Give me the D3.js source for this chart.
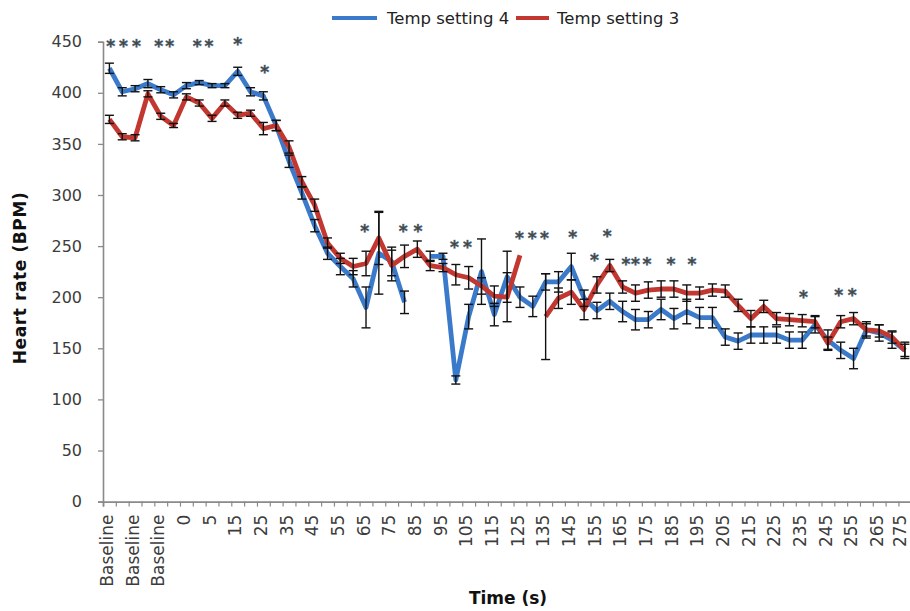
<!DOCTYPE html>
<html>
<head>
<meta charset="utf-8">
<script src="https://cdn.jsdelivr.net/npm/d3@7"></script>
<style>
  html, body { margin: 0; padding: 0; background: #fff; }
  svg { display: block; }
</style>
</head>
<body>
<svg id="chart" width="910" height="611"></svg>
<script>
// Time points (every second label is shown on the axis; index 7 carries no label)
const categories = [
  "Baseline", "Baseline", "Baseline", "Baseline", "Baseline", "Baseline",
  "0", "", "5", "10", "15", "20", "25", "30", "35", "40", "45", "50", "55", "60",
  "65", "70", "75", "80", "85", "90", "95", "100", "105", "110", "115", "120",
  "125", "130", "135", "140", "145", "150", "155", "160", "165", "170", "175",
  "180", "185", "190", "195", "200", "205", "210", "215", "220", "225", "230",
  "235", "240", "245", "250", "255", "260", "265", "270", "275"
];

// Mean heart rate (BPM); null = no reading at that time point
const tempSetting4 = [
  424, 401, 404, 409, 403, 398, 407, 410, 407, 407,
  421, 401, 397, 368, 333, 302, 270, 243, 230, 218,
  190, 243, 235, 195, null, 240, 240, 119, 181, 225,
  183, 220, 200, 191, 215, 215, 230, 199, 187, 196,
  186, 178, 178, 188, 179, 186, 180, 180, 161, 157,
  163, 163, 163, 158, 158, 173, 158, 148, 140, 168,
  165, 158, 148
];
const tempSetting4Err = [
  5, 4, 3, 4, 3, 3, 3, 2, 2, 2,
  4, 4, 4, 5, 6, 6, 6, 6, 8, 8,
  20, 40, 14, 11, null, 5, 3, 4, 12, 32,
  11, 25, 10, 10, 8, 10, 13, 8, 8, 8,
  10, 10, 8, 10, 10, 12, 10, 10, 8, 8,
  8, 8, 8, 8, 8, 8, 10, 8, 10, 8,
  8, 8, 8
];
const tempSetting3 = [
  374, 357, 356, 399, 377, 368, 396, 390, 375, 390,
  378, 380, 365, 368, 347, 313, 290, 253, 238, 230,
  233, 258, 231, 240, 247, 231, 229, 222, 219, 211,
  201, 200, 241, null, 181, 199, 205, 188, 212, 231,
  210, 204, 207, 208, 208, 204, 204, 207, 206, 192,
  179, 191, 179, 178, 177, 176, 155, 176, 179, 168,
  167, 161, 148
];
const tempSetting3Err = [
  4, 3, 3, 3, 3, 2, 3, 3, 3, 3,
  3, 3, 6, 5, 6, 5, 6, 5, 5, 8,
  12, 26, 15, 11, 8, 5, 4, 10, 11, 8,
  10, 24, 0, null, 42, 10, 12, 10, 8, 6,
  6, 8, 8, 8, 8, 8, 6, 6, 6, 6,
  8, 6, 6, 6, 6, 6, 6, 6, 6, 6,
  6, 6, 6
];

// Significance markers: position along the time axis (index units) and height (BPM)
const sigPos = [0.1, 1.1, 2.1, 3.85, 4.7, 6.85, 7.75, 10, 12.1,
                19.9, 22.9, 24.05, 26.9, 27.9, 31.95, 32.96, 33.9,
                36.1, 37.8, 38.8, 40.25, 41.0, 41.9, 43.76, 45.4,
                54.1, 56.85, 57.9];
const sigVal = [450, 450, 450, 450, 450, 450, 450, 452, 425,
                269, 269, 269, 254, 254, 262, 262, 262,
                263, 241, 264, 237, 237, 237, 237, 237,
                205, 207, 207];

const yTicks = [0, 50, 100, 150, 200, 250, 300, 350, 400, 450];

const series = [
  { name: "Temp setting 4", values: tempSetting4, err: tempSetting4Err, color: "#3b7acb" },
  { name: "Temp setting 3", values: tempSetting3, err: tempSetting3Err, color: "#c2372f" }
];

const width = 910;
const svg = d3.select("#chart");
const plotLeft = 103, step = 12.83, plotTop = 41.7, plotBottom = 501.6;
const n = categories.length;

const x = d3.scaleBand().domain(d3.range(n)).range([plotLeft, plotLeft + n * step]).padding(0);
const xEdge = d3.scaleLinear().domain([0, n]).range([plotLeft, plotLeft + n * step]);
const y = d3.scaleLinear().domain([0, 450]).range([plotBottom, plotTop]);
const xc = i => x(i) + x.bandwidth() / 2;

// Y axis
const yAxis = svg.append("g")
  .attr("transform", `translate(${plotLeft},0)`)
  .call(d3.axisLeft(y).tickValues(yTicks).tickSize(5).tickPadding(16));
yAxis.select(".domain").attr("stroke", "#8a8a8a").attr("stroke-width", 1.6);
yAxis.selectAll(".tick line").attr("stroke", "#8a8a8a").attr("stroke-width", 1.3);
yAxis.selectAll(".tick text")
  .attr("font-family", "DejaVu Sans, sans-serif")
  .attr("font-size", 16)
  .attr("fill", "#3c3c3c");

// X axis: boundary ticks between time points
const xAxis = svg.append("g")
  .attr("transform", `translate(0,${plotBottom})`)
  .call(d3.axisBottom(xEdge).tickValues(d3.range(n + 1)).tickSize(5).tickFormat(""));
xAxis.select(".domain").attr("stroke", "#8a8a8a").attr("stroke-width", 1.8);
xAxis.selectAll(".tick line").attr("stroke", "#8a8a8a").attr("stroke-width", 1.2);

// Rotated time labels, every second point (kept inside the right edge)
const labelX = i => Math.min(xc(i), width - 8);
svg.append("g").selectAll("text")
  .data(d3.range(0, n, 2))
  .join("text")
  .attr("transform", i => `translate(${labelX(i)},${plotBottom + 13}) rotate(-90)`)
  .attr("dy", "0.22em")
  .attr("text-anchor", "end")
  .attr("font-family", "DejaVu Sans, sans-serif")
  .attr("font-size", 17)
  .attr("fill", "#3c3c3c")
  .text(i => categories[i]);

// Axis titles
svg.append("text")
  .attr("transform", `translate(20,278) rotate(-90)`)
  .attr("dy", "0.35em")
  .attr("text-anchor", "middle")
  .attr("font-family", "DejaVu Sans, sans-serif")
  .attr("font-weight", "bold")
  .attr("font-size", 17)
  .attr("letter-spacing", 0.6)
  .attr("fill", "#111")
  .text("Heart rate (BPM)");

svg.append("text")
  .attr("x", 508)
  .attr("y", 598)
  .attr("dy", "0.35em")
  .attr("text-anchor", "middle")
  .attr("font-family", "DejaVu Sans, sans-serif")
  .attr("font-weight", "bold")
  .attr("font-size", 17)
  .attr("fill", "#111")
  .text("Time (s)");

// Lines
const line = d3.line()
  .defined(d => d != null)
  .x((d, i) => xc(i))
  .y(d => y(d));

const plot = svg.append("g");
series.forEach(s => {
  plot.append("path")
    .datum(s.values)
    .attr("fill", "none")
    .attr("stroke", s.color)
    .attr("stroke-width", 4.8)
    .attr("stroke-linejoin", "round")
    .attr("stroke-linecap", "butt")
    .attr("d", line);
});

// Error bars
const cap = 4.5;
series.forEach(s => {
  const pts = s.values.map((v, i) => ({ i, v, e: s.err[i] }))
    .filter(d => d.v != null && d.e != null && d.e > 0);
  const g = plot.append("g").attr("stroke", "#111").attr("stroke-width", 1.4);
  g.selectAll("line.v").data(pts).join("line")
    .attr("x1", d => xc(d.i)).attr("x2", d => xc(d.i))
    .attr("y1", d => y(d.v - d.e)).attr("y2", d => y(d.v + d.e));
  g.selectAll("line.t").data(pts).join("line")
    .attr("x1", d => xc(d.i) - cap).attr("x2", d => xc(d.i) + cap)
    .attr("y1", d => y(d.v + d.e)).attr("y2", d => y(d.v + d.e));
  g.selectAll("line.b").data(pts).join("line")
    .attr("x1", d => xc(d.i) - cap).attr("x2", d => xc(d.i) + cap)
    .attr("y1", d => y(d.v - d.e)).attr("y2", d => y(d.v - d.e));
});

// Significance asterisks
svg.append("g").selectAll("text")
  .data(sigPos.map((p, i) => ({ p, v: sigVal[i] })))
  .join("text")
  .attr("x", d => xEdge(d.p + 0.5))
  .attr("y", d => y(d.v))
  .attr("dy", "0.62em")
  .attr("text-anchor", "middle")
  .attr("font-family", "DejaVu Sans, sans-serif")
  .attr("font-weight", "bold")
  .attr("font-size", 17)
  .attr("fill", "#4a4a3c")
  .attr("stroke", "#79a3dc")
  .attr("stroke-width", 0.7)
  .attr("paint-order", "stroke")
  .text("*");

// Legend
const legend = svg.append("g");
const legendItems = [
  { s: series[0], x0: 332, x1: 377, tx: 387 },
  { s: series[1], x0: 516, x1: 549, tx: 557 }
];
legendItems.forEach(it => {
  legend.append("line")
    .attr("x1", it.x0).attr("x2", it.x1)
    .attr("y1", 18).attr("y2", 18)
    .attr("stroke", it.s.color).attr("stroke-width", 4.2);
  legend.append("text")
    .attr("x", it.tx).attr("y", 18).attr("dy", "0.35em")
    .attr("font-family", "DejaVu Sans, sans-serif")
    .attr("font-size", 16.5)
    .attr("fill", "#222")
    .text(it.s.name);
});
</script>
</body>
</html>
